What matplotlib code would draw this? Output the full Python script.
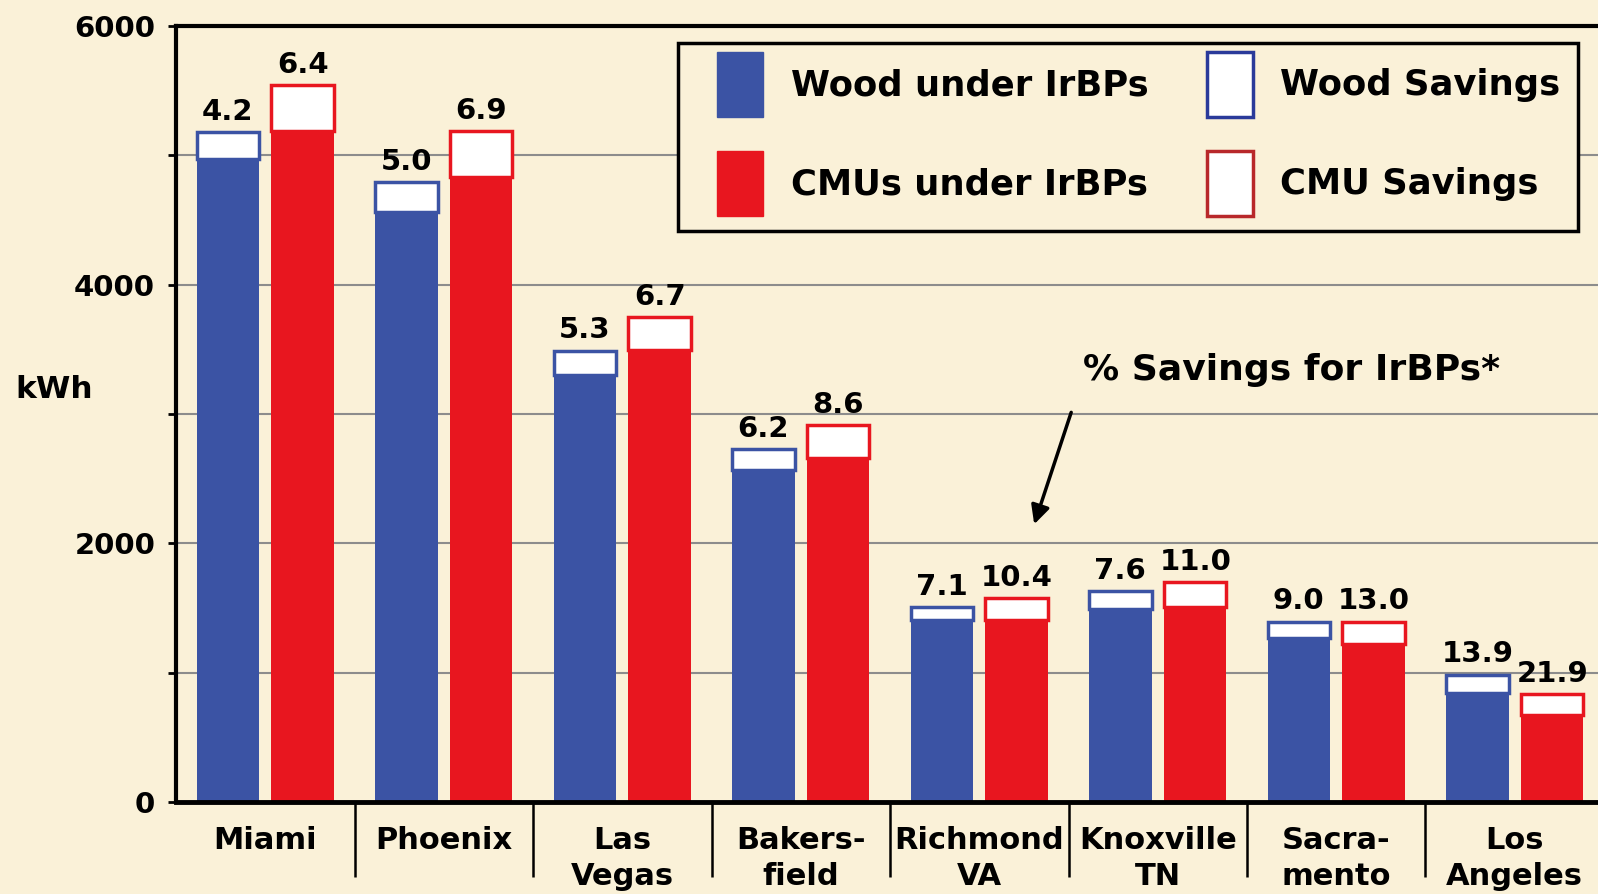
import matplotlib
matplotlib.use('Agg')
import matplotlib.pyplot as plt
from matplotlib.patches import Patch, Rectangle

# Data
cities = ['Miami', 'Phoenix', 'Las\nVegas', 'Bakers-\nfield', 'Richmond\nVA',
          'Knoxville\nTN', 'Sacra-\nmento', 'Los\nAngeles']
wood_under = [4975, 4565, 3300, 2565, 1410, 1495, 1270, 845]
wood_savings = [205, 230, 190, 165, 95, 135, 125, 140]
cmu_under = [5190, 4835, 3495, 2660, 1410, 1505, 1220, 670]
cmu_savings = [355, 355, 255, 255, 165, 195, 175, 165]
wood_pct = [4.2, 5.0, 5.3, 6.2, 7.1, 7.6, 9.0, 13.9]
cmu_pct = [6.4, 6.9, 6.7, 8.6, 10.4, 11.0, 13.0, 21.9]

BG = '#faf1d8'
BLUE = '#3b53a4'
RED = '#e8161f'

plt.rcParams['font.family'] = ['DejaVu Sans']
plt.rcParams['font.weight'] = 'bold'

W, H = 1598, 894
fig = plt.figure(figsize=(W / 100, H / 100), dpi=100, facecolor=BG)
ax = fig.add_axes([176 / W, 92 / H, 1428 / W, 776 / H])
ax.set_facecolor(BG)

x = list(range(len(cities)))
off = 0.21
w = 0.35
xb = [i - off for i in x]
xr = [i + off for i in x]

ax.bar(xb, wood_under, w, color=BLUE, zorder=2)
ax.bar(xb, wood_savings, w, bottom=wood_under, color='white',
       edgecolor=BLUE, linewidth=2.5, zorder=2)
ax.bar(xr, cmu_under, w, color=RED, zorder=2)
ax.bar(xr, cmu_savings, w, bottom=cmu_under, color='white',
       edgecolor=RED, linewidth=2.5, zorder=2)

# percentage labels above the bars
for i in x:
    ax.annotate(f'{wood_pct[i]:.1f}', (xb[i], wood_under[i] + wood_savings[i]),
                xytext=(0, 4.5), textcoords='offset points', ha='center',
                va='bottom', fontsize=21, fontweight='bold')
    ax.annotate(f'{cmu_pct[i]:.1f}', (xr[i], cmu_under[i] + cmu_savings[i]),
                xytext=(0, 4.5), textcoords='offset points', ha='center',
                va='bottom', fontsize=21, fontweight='bold')

# axes
ax.set_xlim(-0.5, len(cities) - 0.5)
ax.set_ylim(0, 6000)
ax.set_yticks([0, 2000, 4000, 6000])
ax.set_yticks([1000, 3000, 5000], minor=True)
ax.tick_params(axis='y', which='both', length=6, width=2, pad=9,
               labelsize=21)
ax.grid(axis='y', which='both', color='#8c8c8c', linewidth=1.5, zorder=0)
ax.set_axisbelow(True)

ax.set_xticks([i + 0.5 for i in x[:-1]])
ax.set_xticklabels([])
ax.set_xticks(x, minor=True)
ax.set_xticklabels(cities, minor=True, fontsize=22, fontweight='bold',
                   linespacing=1.32)
ax.tick_params(axis='x', which='major', length=54, width=1.8)
ax.tick_params(axis='x', which='minor', length=0, pad=17)

for s in ['left', 'top']:
    ax.spines[s].set_linewidth(3)
ax.spines['bottom'].set_linewidth(3.5)
ax.spines['right'].set_visible(False)

ax.set_ylabel('kWh', rotation=0, fontsize=22.5, fontweight='bold',
              ha='center', va='center')
ax.yaxis.set_label_coords(-0.085, 0.531)

# annotation
ax.annotate('', xy=(4.303, 2127), xytext=(4.52, 3033),
            arrowprops=dict(arrowstyle='-|>', lw=2.5, color='black',
                            mutation_scale=28))
ax.text(5.75, 3340, '% Savings for IrBPs*', ha='center', va='center',
        fontsize=26, fontweight='bold')

# legend: frame drawn separately so the inner padding can match
fig.patches.append(Rectangle((678 / W, 1 - 231 / H), 900 / W, 188 / H,
                             transform=fig.transFigure, facecolor=BG,
                             edgecolor='black', linewidth=2.5, zorder=5))
handles = [
    Patch(facecolor=BLUE, edgecolor=BLUE, label='Wood under IrBPs'),
    Patch(facecolor=RED, edgecolor=RED, label='CMUs under IrBPs'),
    Patch(facecolor='white', edgecolor='#2a3a9a', linewidth=2.5,
          label='Wood Savings'),
    Patch(facecolor='white', edgecolor='#b8282a', linewidth=2.5,
          label='CMU Savings'),
]
leg = fig.legend(handles=handles, ncol=2, loc='upper left',
                 bbox_to_anchor=(717 / W, 1 - 52 / H),
                 borderaxespad=0, borderpad=0, fontsize=25.5,
                 handlelength=1.3, handleheight=2.45, handletextpad=0.78,
                 labelspacing=0.95, columnspacing=1.65, frameon=False)
leg.set_zorder(6)

fig.savefig('out.png', dpi=100, facecolor=BG)
